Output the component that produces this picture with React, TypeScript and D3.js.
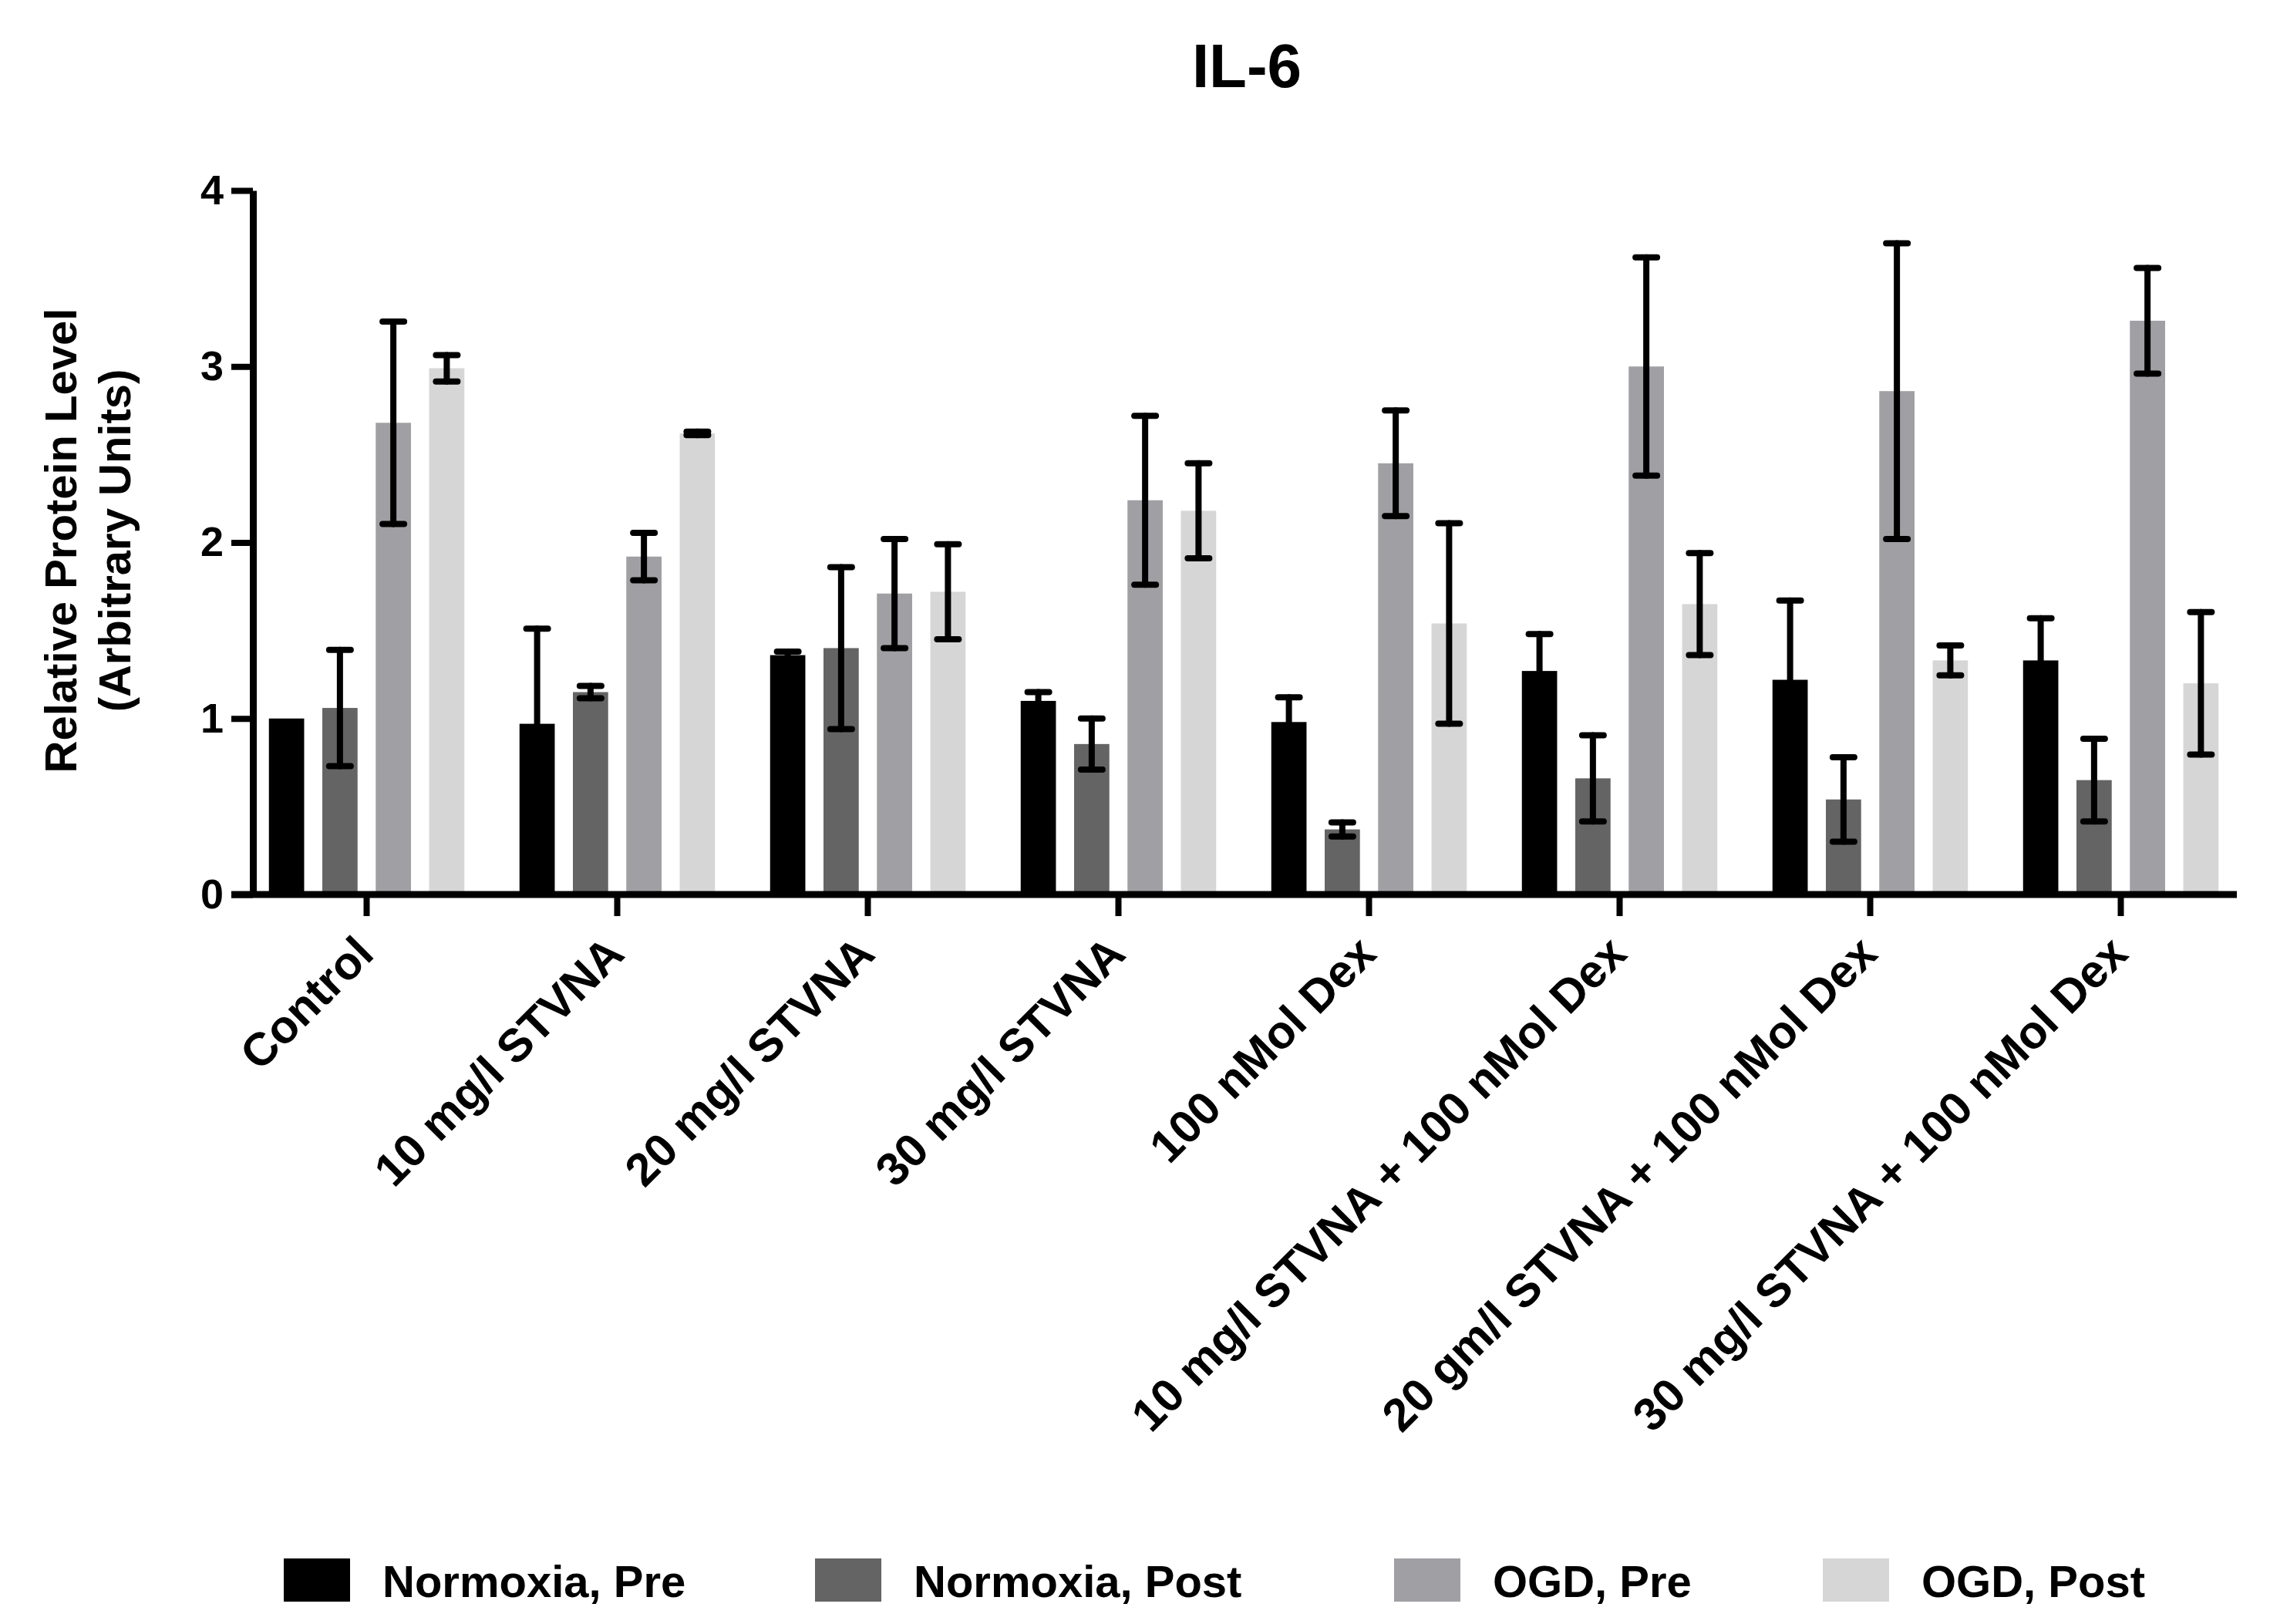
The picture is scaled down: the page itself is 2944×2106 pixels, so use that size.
import { useEffect, useRef } from 'react'
import * as d3 from 'd3'

const categories = [
  'Control',
  '10 mg/l STVNA',
  '20 mg/l STVNA',
  '30 mg/l STVNA',
  '100 nMol Dex',
  '10 mg/l STVNA + 100 nMol Dex',
  '20 gm/l STVNA + 100 nMol Dex',
  '30 mg/l STVNA + 100 nMol Dex',
]

const seriesNames = ['Normoxia, Pre', 'Normoxia, Post', 'OGD, Pre', 'OGD, Post']
const seriesColors = ['#000000', '#646464', '#a0a0a4', '#d6d6d6']

// means
const normoxiaPre = [1.0, 0.97, 1.36, 1.1, 0.98, 1.27, 1.22, 1.33]
const normoxiaPost = [1.06, 1.15, 1.4, 0.855, 0.37, 0.66, 0.54, 0.65]
const ogdPre = [2.68, 1.92, 1.71, 2.24, 2.45, 3.0, 2.86, 3.26]
const ogdPost = [2.99, 2.62, 1.72, 2.18, 1.54, 1.65, 1.33, 1.2]

// error (half range)
const normoxiaPreErr = [0, 0.54, 0.02, 0.05, 0.14, 0.21, 0.45, 0.24]
const normoxiaPostErr = [0.33, 0.035, 0.46, 0.145, 0.04, 0.245, 0.24, 0.235]
const ogdPreErr = [0.575, 0.135, 0.31, 0.48, 0.3, 0.62, 0.84, 0.3]
const ogdPostErr = [0.075, 0.01, 0.27, 0.27, 0.57, 0.29, 0.085, 0.405]

const yTicks = [0, 1, 2, 3, 4]

const W = 2944
const H = 2106
const FONT = '"Liberation Sans", Arial, Helvetica, sans-serif'

export default function App() {
  const svgRef = useRef<SVGSVGElement>(null)

  useEffect(() => {
    document.body.style.margin = '0'
    if (!svgRef.current) return
    const svg = d3.select(svgRef.current)
    svg.selectAll('*').remove()

    const means = [normoxiaPre, normoxiaPost, ogdPre, ogdPost]
    const errs = [normoxiaPreErr, normoxiaPostErr, ogdPreErr, ogdPostErr]
    const data = categories.flatMap((c, ci) =>
      seriesNames.map((s, si) => ({ cat: c, series: s, si, value: means[si][ci], err: errs[si][ci] }))
    )

    const axisX = 328
    const y = d3.scaleLinear().domain([0, 4]).range([1160, 247])

    const x0 = d3.scaleBand<string>().domain(categories).range([313, 2913]).paddingInner(0.22).paddingOuter(0.11)
    const x1 = d3.scaleBand<string>().domain(seriesNames).range([0, x0.bandwidth()]).paddingInner(0.34)

    svg.attr('width', W).attr('height', H).style('display', 'block').style('background', '#fff')

    // Title
    svg.append('text')
      .attr('x', 1617)
      .attr('y', 113)
      .attr('text-anchor', 'middle')
      .attr('font-family', FONT)
      .attr('font-weight', 700)
      .attr('font-size', 80)
      .text('IL-6')

    // Bars
    svg.append('g')
      .selectAll('rect')
      .data(data)
      .enter()
      .append('rect')
      .attr('x', d => x0(d.cat)! + x1(d.series)!)
      .attr('y', d => y(d.value))
      .attr('width', x1.bandwidth())
      .attr('height', d => y(0) - y(d.value))
      .attr('fill', d => seriesColors[d.si])

    // Error bars
    const eb = svg.append('g').attr('stroke', '#000').attr('stroke-width', 8).attr('stroke-linecap', 'round')
    const capW = 28
    data.filter(d => d.err > 0).forEach(d => {
      const cx = x0(d.cat)! + x1(d.series)! + x1.bandwidth() / 2
      const hi = y(d.value + d.err)
      const lo = y(d.value - d.err)
      eb.append('line').attr('x1', cx).attr('x2', cx).attr('y1', hi).attr('y2', lo)
      eb.append('line').attr('x1', cx - capW / 2).attr('x2', cx + capW / 2).attr('y1', hi).attr('y2', hi)
      eb.append('line').attr('x1', cx - capW / 2).attr('x2', cx + capW / 2).attr('y1', lo).attr('y2', lo)
    })

    // Y axis
    const yAxis = svg.append('g')
      .attr('transform', `translate(${axisX},0)`)
      .call(d3.axisLeft(y).tickValues(yTicks).tickFormat(d3.format('d')).tickSize(28).tickSizeOuter(0).tickPadding(10))
    yAxis.select('.domain').attr('stroke', '#000').attr('stroke-width', 9)
    yAxis.selectAll('.tick line').attr('stroke', '#000').attr('stroke-width', 8)
    yAxis.selectAll('.tick text')
      .attr('font-family', FONT)
      .attr('font-weight', 700)
      .attr('font-size', 54)
      .attr('fill', '#000')

    // X axis
    svg.append('line')
      .attr('x1', 300)
      .attr('x2', 2901)
      .attr('y1', y(0))
      .attr('y2', y(0))
      .attr('stroke', '#000')
      .attr('stroke-width', 9)

    const xt = svg.append('g')
    categories.forEach(c => {
      const cx = x0(c)! + x0.bandwidth() / 2
      xt.append('line')
        .attr('x1', cx).attr('x2', cx)
        .attr('y1', y(0)).attr('y2', y(0) + 28)
        .attr('stroke', '#000').attr('stroke-width', 8)
      xt.append('text')
        .attr('transform', `translate(${cx + 12},${y(0) + 80}) rotate(-45)`)
        .attr('text-anchor', 'end')
        .attr('font-family', FONT)
        .attr('font-weight', 700)
        .attr('font-size', 60)
        .text(c)
    })

    // Y axis title
    const yt = svg.append('text')
      .attr('transform', 'translate(99,701) rotate(-90)')
      .attr('text-anchor', 'middle')
      .attr('font-family', FONT)
      .attr('font-weight', 700)
      .attr('font-size', 58)
    yt.append('tspan').attr('x', 0).attr('y', 0).text('Relative Protein Level')
    yt.append('tspan').attr('x', 0).attr('y', 70).text('(Arbitrary Units)')

    // Legend
    const legendX = [368, 1057, 1808, 2364]
    const lg = svg.append('g')
    seriesNames.forEach((s, i) => {
      lg.append('rect')
        .attr('x', legendX[i])
        .attr('y', 2021)
        .attr('width', 86)
        .attr('height', 56)
        .attr('fill', seriesColors[i])
      lg.append('text')
        .attr('x', legendX[i] + 128)
        .attr('y', 2071)
        .attr('font-family', FONT)
        .attr('font-weight', 700)
        .attr('font-size', 58)
        .text(s)
    })
  }, [])

  return (
    <div>
      <svg ref={svgRef} />
    </div>
  )
}
